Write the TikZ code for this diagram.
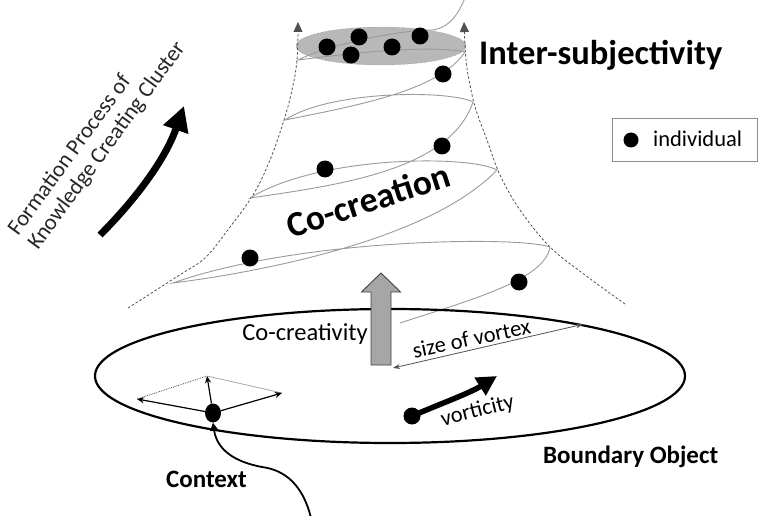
\documentclass[tikz,border=0pt]{standalone}
\usepackage{fontspec}
\setmainfont{Carlito}
\usetikzlibrary{arrows.meta,shapes.geometric}
\definecolor{spiralgray}{HTML}{9A9A9A}
\definecolor{dashgray}{HTML}{505050}
\definecolor{arrowfill}{HTML}{A6A6A6}
\definecolor{capfill}{HTML}{B8B8B8}

\begin{document}
\begin{tikzpicture}[x=1pt,y=-1pt,
  dotnode/.style={circle,fill=black,inner sep=0pt,minimum size=17pt},
  spiralline/.style={draw=spiralgray,line width=0.9pt},
  funnel/.style={draw=dashgray,line width=0.8pt,dash pattern=on 2.5pt off 2pt,
    -{Triangle[length=10pt,width=9pt]}},
  lbl/.style={inner sep=0pt,font=\fontsize{22.5}{26}\selectfont},
  boldlbl/.style={inner sep=0pt,font=\fontsize{25}{29}\selectfont\bfseries},
  ctxarrow/.style={draw=black,line width=1.2pt,-{Stealth[length=7pt,width=6pt]}},
]
\useasboundingbox (0,0) rectangle (758,516);

% gray cap of the vortex
\node[ellipse,draw=black!55,densely dotted,fill=capfill,minimum width=170pt,
      minimum height=38pt,inner sep=0pt] (cap) at (381,46) {};

% dashed outline of the funnel
\draw[funnel] plot[smooth,tension=0.6] coordinates {(128,308) (178,276) (205,258)
  (227,231) (253,195) (270,160) (284,120) (292,90) (297,60) (298,22)};
\draw[funnel] plot[smooth,tension=0.6] coordinates {(625,304) (585,275) (550,247)
  (520,210) (500,175) (487,140) (476,110) (470,85) (466,60) (464,22)};

% the rising spiral
\draw[spiralline] (400,323)
  .. controls (470,300) and (545,280) .. (550,247)
  .. controls (520,236) and (300,238) .. (173,283)
  .. controls (260,272) and (430,240) .. (497,170)
  .. controls (470,155) and (320,155) .. (250,198)
  .. controls (340,185) and (450,170) .. (473,102)
  .. controls (450,90) and (330,90) .. (285,120)
  .. controls (360,105) and (440,90) .. (465,52)
  .. controls (430,45) and (360,52) .. (298,60)
  .. controls (330,44) and (400,30) .. (432,30)
  .. controls (450,28) and (460,12) .. (466,-5);

% individuals along the spiral
\node[dotnode] (i1) at (327,47) {};
\node[dotnode] (i2) at (359,37) {};
\node[dotnode] (i3) at (351,55) {};
\node[dotnode] (i4) at (392,47) {};
\node[dotnode] (i5) at (420,36) {};
\node[dotnode] (i6) at (443,74) {};
\node[dotnode] (i7) at (442,146) {};
\node[dotnode] (i8) at (325,169) {};
\node[dotnode] (i9) at (250,258) {};
\node[dotnode] (i10) at (519,282) {};

% boundary object
\node[ellipse,draw=black,line width=2.2pt,minimum width=590pt,minimum height=134pt,
      inner sep=0pt] (bo) at (390,376) {};

% co-creativity arrow
\draw[draw=black!75,fill=arrowfill,line width=0.9pt]
  (371,365) -- (371,292) -- (361.5,292) -- (381,273) -- (400.5,292)
  -- (391,292) -- (391,365) -- cycle;
\coordinate (sv1) at (393,368);

% size of vortex
\draw[draw=dashgray,line width=0.8pt,
      {Stealth[length=7pt,width=5pt]}-{Stealth[length=7pt,width=5pt]}] (sv1) -- (bo.15);

% context
\node[ellipse,fill=black,minimum width=16pt,minimum height=19pt,inner sep=0pt] (ctx) at (213,413) {};
\coordinate (cu) at (207,376);
\coordinate (cl) at (137,399);
\coordinate (cr) at (282,393);
\draw[black!70,densely dotted,line width=0.8pt] (cl) -- (cu);
\draw[black!35,line width=0.8pt] (cu) -- (cr);
\draw[ctxarrow] (ctx) -- (cu);
\draw[ctxarrow] (ctx) -- (cl);
\draw[ctxarrow] (ctx) -- (cr);
\coordinate (cstart) at (311,518);
\draw[line width=1.8pt,-{Triangle[length=8pt,width=8pt]}] (cstart)
  .. controls (303,485) and (285,470) .. (262,467)
  .. controls (235,462) and (217,450) .. (ctx.south);

% vorticity
\node[dotnode] (vdot) at (412,416) {};
\coordinate (vtip) at (497,376);
\draw[line width=5.5pt,-{Triangle[length=20pt,width=20pt]}] (vdot.center)
  .. controls (440,404) and (470,393) .. (vtip);

% formation process arrow
\coordinate (fa0) at (100,235);
\coordinate (fa1) at (184,106);
\draw[line width=7pt,-{Triangle[length=25pt,width=25pt]}] (fa0)
  .. controls (135,200) and (165,160) .. (fa1);

% legend
\node[draw=black!45,line width=0.8pt,minimum width=145pt,minimum height=43pt,
      anchor=north west,inner sep=0pt] (legend) at (612,118) {};
\node[dotnode,minimum size=15pt] (ldot) at (631,140) {};
\node[lbl,anchor=base west] (ltext) at (653,147) {individual};

% labels
\node[lbl,anchor=base west,rotate=54,text=black!85] (ftext1) at (18,237)
  {Formation Process of};
\node[lbl,anchor=base west,rotate=54,text=black!85] (ftext2) at (38,251)
  {Knowledge Creating Cluster};
\node[inner sep=0pt,anchor=base west,font=\fontsize{34.5}{40}\selectfont\bfseries] (inter) at (479,65) {Inter-subjectivity};
\node[inner sep=0pt,anchor=base,rotate=18,font=\fontsize{35.5}{42}\selectfont\bfseries] (cocr) at (372,212) {Co-creation};
\node[lbl,anchor=base,font=\fontsize{24.5}{28}\selectfont] (cocv) at (305,340) {Co-creativity};
\node[lbl,anchor=base,rotate=12] (size) at (473,346) {size of vortex};
\node[lbl,anchor=base,rotate=14] (vort) at (479,417) {vorticity};
\node[boldlbl,anchor=base west] (context) at (166,487) {Context};
\node[boldlbl,anchor=base west] (bound) at (543,463) {Boundary Object};
\end{tikzpicture}
\end{document}
